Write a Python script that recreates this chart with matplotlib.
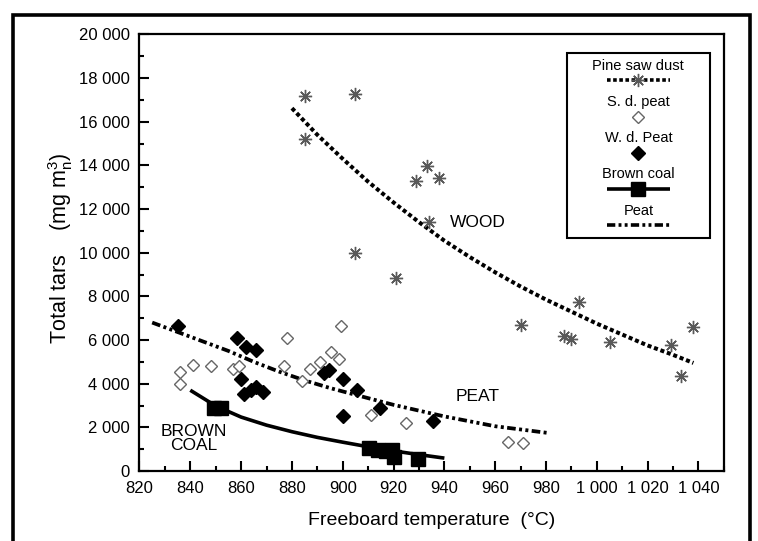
import matplotlib
matplotlib.use('Agg')
import matplotlib.pyplot as plt
from matplotlib.ticker import MultipleLocator, FuncFormatter
from matplotlib.offsetbox import AnchoredOffsetbox, VPacker, TextArea, DrawingArea
from matplotlib.lines import Line2D
from matplotlib.patches import Rectangle

plt.rcParams['font.family'] = ['Liberation Sans', 'DejaVu Sans']
plt.rcParams['mathtext.fontset'] = 'custom'
plt.rcParams['mathtext.rm'] = 'Liberation Sans'

# --- data ---
# pine saw dust (asterisks)
pine_T = [885, 885, 905, 905, 921, 929, 933, 938, 934, 970, 987, 990, 993, 1005, 1029, 1033, 1038]
pine_tar = [17200, 15200, 17250, 10000, 8850, 13300, 13950, 13400, 11400, 6700, 6200, 6050, 7750, 5900, 5780, 4350, 6580]

# sawdust-dried peat (open diamonds)
sd_T = [836, 836, 841, 848, 857, 859, 877, 878, 884, 887, 891, 895.5, 898.5, 899.5, 911, 925, 965, 971]
sd_tar = [4550, 4000, 4850, 4800, 4650, 4800, 4800, 6100, 4100, 4680, 5000, 5430, 5130, 6620, 2570, 2220, 1350, 1280]

# wood-dried peat (filled diamonds)
wd_T = [835, 858.5, 862, 866, 860, 861, 864, 866, 868.5, 892.5, 894.5, 900, 905.5, 900, 914.5, 935.5]
wd_tar = [6620, 6100, 5700, 5520, 4200, 3540, 3690, 3840, 3640, 4510, 4630, 4210, 3720, 2500, 2880, 2310]

# brown coal (squares)
bc_T = [849.5, 852, 910.5, 914, 917, 919.5, 920, 929.5]
bc_tar = [2900, 2900, 1050, 970, 900, 950, 650, 550]

# trend curves
wood_T = [880, 890, 900, 910, 920, 930, 940, 950, 960, 970, 980, 990, 1000, 1010, 1020, 1030, 1038]
wood_tar = [16620, 15400, 14300, 13250, 12300, 11400, 10550, 9800, 9100, 8450, 7850, 7300, 6750, 6250, 5750, 5320, 4950]

peat_T = [825, 840, 855, 865, 875, 885, 895, 905, 920, 940, 960, 981]
peat_tar = [6800, 6150, 5500, 5000, 4550, 4150, 3800, 3490, 3030, 2500, 2050, 1740]

bcfit_T = [840, 850, 860, 870, 880, 890, 900, 910, 920, 930, 940]
bcfit_tar = [3700, 2980, 2470, 2100, 1800, 1540, 1320, 1110, 920, 750, 590]

# line / marker styles
STAR = (8, 2, 0)
DOTTED = (0, (1.0, 0.7))
DASHDOTDOT = (0, (2.3, 0.9, 0.8, 0.9, 0.8, 0.9))
GREY = '0.35'

fig = plt.figure(figsize=(7.58, 5.41), dpi=100)
ax = fig.add_axes([0.184, 0.1294, 0.771, 0.807])

ax.plot(wood_T, wood_tar, color='black', lw=2.9, linestyle=DOTTED, dash_capstyle='butt')
ax.plot(peat_T, peat_tar, color='black', lw=2.7, linestyle=DASHDOTDOT, dash_capstyle='butt')
ax.plot(bcfit_T, bcfit_tar, color='black', lw=2.6, solid_capstyle='butt')

ax.plot(pine_T, pine_tar, linestyle='none', marker=STAR, ms=9.5, mew=1.0, color=GREY)
ax.plot(sd_T, sd_tar, linestyle='none', marker='D', ms=6.5, mfc='white', mec='0.4', mew=1.0)
ax.plot(wd_T, wd_tar, linestyle='none', marker='D', ms=7.2, color='black')
ax.plot(bc_T, bc_tar, linestyle='none', marker='s', ms=10.3, color='black')

ax.text(942, 11400, 'WOOD', fontsize=12.5, va='center', ha='left')
ax.text(944.5, 3420, 'PEAT', fontsize=12.5, va='center', ha='left')
ax.text(841.5, 1480, 'BROWN\nCOAL', fontsize=12.5, va='center', ha='center', linespacing=0.95)

ax.set_xlim(820, 1050)
ax.set_ylim(0, 20000)
ax.xaxis.set_major_locator(MultipleLocator(20))
ax.xaxis.set_minor_locator(MultipleLocator(10))
ax.yaxis.set_major_locator(MultipleLocator(2000))
ax.yaxis.set_minor_locator(MultipleLocator(1000))
ax.set_xticks(range(820, 1041, 20))

spaced = FuncFormatter(lambda v, p: f'{int(v):,}'.replace(',', ' '))
ax.xaxis.set_major_formatter(spaced)
ax.yaxis.set_major_formatter(spaced)

ax.tick_params(which='both', direction='in', top=False, right=False, width=1.5)
ax.tick_params(which='major', length=7, labelsize=12)
ax.tick_params(which='minor', length=3.5)
ax.tick_params(axis='x', pad=7.5)
ax.tick_params(axis='y', pad=7)
for s in ax.spines.values():
    s.set_linewidth(1.6)

ax.set_xlabel('Freeboard temperature  (°C)', fontsize=14)
ax.set_ylabel('Total tars    (mg m$^{3}_{\\mathrm{n}}$)', fontsize=15.5)
ax.xaxis.set_label_coords(0.5, -0.093)
ax.yaxis.set_label_coords(-0.11, 0.51)


# --- legend: label text above each sample ---
def sample(**kw):
    da = DrawingArea(95, 10, 0, 0)
    da.add_artist(Line2D([25, 47.5, 70], [5, 5, 5], markevery=[1], **kw))
    return da


def label(txt):
    return TextArea(txt, textprops=dict(fontsize=10.5))


rows = [
    label('Pine saw dust'),
    sample(color='black', lw=2.6, linestyle=DOTTED, dash_capstyle='butt',
           marker=STAR, ms=9.5, mew=1.0, mec=GREY),
    label('S. d. peat'),
    sample(linestyle='none', marker='D', ms=6.5, mfc='white', mec='0.4', mew=1.0),
    label('W. d. Peat'),
    sample(linestyle='none', marker='D', ms=7.2, color='black'),
    label('Brown coal'),
    sample(color='black', lw=2.6, marker='s', ms=10, solid_capstyle='butt'),
    label('Peat'),
    sample(color='black', lw=2.6, linestyle=DASHDOTDOT, dash_capstyle='butt'),
]
pairs = [VPacker(children=rows[i:i + 2], align='center', pad=0, sep=0.5)
         for i in range(0, len(rows), 2)]
pack = VPacker(children=pairs, align='center', pad=0, sep=5.5)
leg = AnchoredOffsetbox(loc='upper right', child=pack, pad=0.4, borderpad=0,
                        frameon=True, bbox_to_anchor=(0.976, 0.957),
                        bbox_transform=ax.transAxes, prop=dict(size=10))
leg.patch.set_linewidth(1.5)
leg.patch.set_edgecolor('black')
ax.add_artist(leg)

# outer frame around the whole picture
fig.patches.append(Rectangle((13 / 758, -0.05), (750 - 13) / 758, 1.05 - 15 / 541,
                             transform=fig.transFigure, fill=False, lw=2.6,
                             edgecolor='black', clip_on=False))

fig.savefig('out.png', dpi=100)
